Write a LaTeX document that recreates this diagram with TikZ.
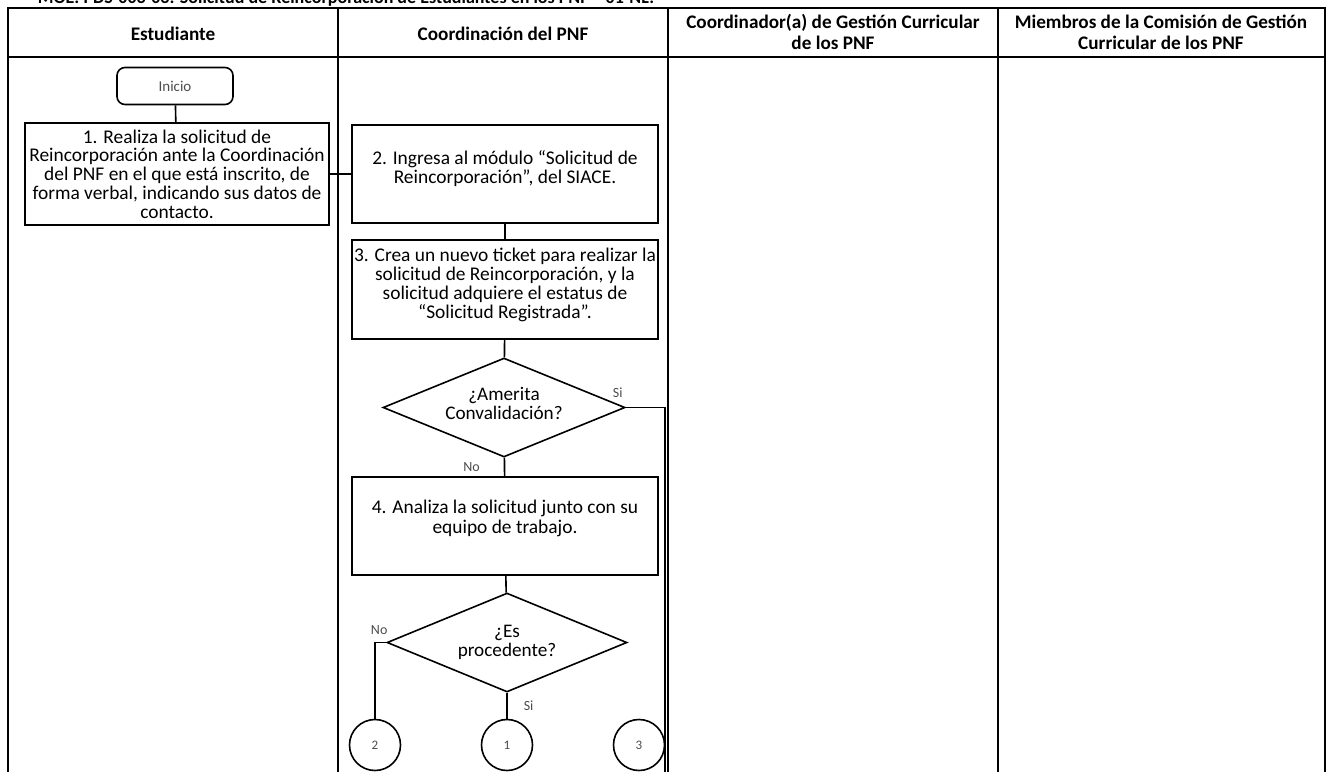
\documentclass[tikz,border=0pt]{standalone}
\usepackage{fontspec}
\setmainfont{Carlito}
\usetikzlibrary{shapes.geometric}

\begin{document}
\begin{tikzpicture}[x=0.5pt,y=-0.5pt,-,line width=0.8pt,
  paso/.style={rectangle,draw,align=center,inner sep=0.5pt,
    font=\fontsize{9.7}{9.4}\selectfont,minimum width=153pt},
  inicio/.style={rectangle,rounded corners=4pt,draw,minimum width=58pt,
    minimum height=18.5pt,font=\fontsize{7.5}{8}\selectfont,text=black!70},
  decision/.style={diamond,draw,align=center,inner sep=0pt,aspect=2.44,
    font=\fontsize{9.6}{9.8}\selectfont},
  conector/.style={circle,draw,minimum size=25.5pt,inner sep=0pt,
    font=\fontsize{6.5}{7}\selectfont,text=black!70},
  carril/.style={font=\bfseries\fontsize{9.6}{10.5}\selectfont,align=center},
  etiqueta/.style={inner sep=0pt,font=\fontsize{7}{7.5}\selectfont,text=black!70}]

  \useasboundingbox (0,0) rectangle (1327,772);
  \clip (0,0) rectangle (1327,772);

  % titulo cortado arriba
  \node[anchor=base west,inner sep=0pt,font=\bfseries\fontsize{9}{9}\selectfont] (titulo) at (37,3)
    {MOE: PDS-003-03: Solicitud de Reincorporación de Estudiantes en los PNF – 01-NL.};

  % tabla de carriles
  \draw (8,772) -- (8,8) -- (1325,8) -- (1325,772);
  \draw (8,57) -- (1325,57);
  \foreach \x in {338,668,998}
    \draw (\x,8) -- (\x,772);

  \node[carril] (h1) at (173,34) {Estudiante};
  \node[carril] (h2) at (503,34) {Coordinación del PNF};
  \node[carril] (h3) at (833,32) {Coordinador(a) de Gestión Curricular\\de los PNF};
  \node[carril] (h4) at (1161,32) {Miembros de la Comisión de Gestión\\Curricular de los PNF};

  % nodos del flujo
  \node[inicio] (0) at (175,86) {Inicio};
  \node[paso,minimum width=152pt,minimum height=51pt] (1) at (177,174)
    {1. Realiza la solicitud de\\Reincorporación ante la Coordinación\\del PNF en el que está inscrito, de\\forma verbal, indicando sus datos de\\contacto.};
  \node[paso,minimum height=49pt] (2) at (505,174)
    {2. Ingresa al módulo “Solicitud de\\Reincorporación”, del SIACE.\\[-2.4pt]\mbox{}};
  \node[paso,minimum height=49.5pt] (3) at (505,289.5)
    {3. Crea un nuevo ticket para realizar la\\solicitud de Reincorporación, y la\\solicitud adquiere el estatus de\\“Solicitud Registrada”.\\[-3pt]\mbox{}};
  \node[decision,minimum width=121pt,minimum height=49.5pt] (d1) at (504,407.5)
    {¿Amerita\\Convalidación?\\[-5.6pt]\mbox{}};
  \node[paso,minimum height=49pt,font=\fontsize{9.7}{10}\selectfont] (4) at (505,526)
    {4. Analiza la solicitud junto con su\\equipo de trabajo.\\[-1pt]\mbox{}};
  \node[decision,minimum width=120pt,minimum height=49.5pt] (d2) at (507,642.5)
    {¿Es\\procedente?};

  \node[conector] (c2) at (375,745) {2};
  \node[conector] (c1) at (507,745) {1};
  \node[conector] (c3) at (639,745) {3};
  \coordinate (s3) at (665,772);

  % conexiones
  \path
    (0) edge (1)
    (1) edge (2)
    (2) edge (3)
    (3) edge (d1)
    (d1) edge node[etiqueta,left=12pt] {No} (4)
    (4) edge (d2)
    (d2) edge node[etiqueta,right=8pt] {Si} (c1);
  \draw (d1.east) node[etiqueta,xshift=-4pt,yshift=7.5pt] {Si} -| (s3);
  \draw (d2.west) node[etiqueta,xshift=-3.5pt,yshift=6pt] {No} -| (c2.north);
\end{tikzpicture}
\end{document}
